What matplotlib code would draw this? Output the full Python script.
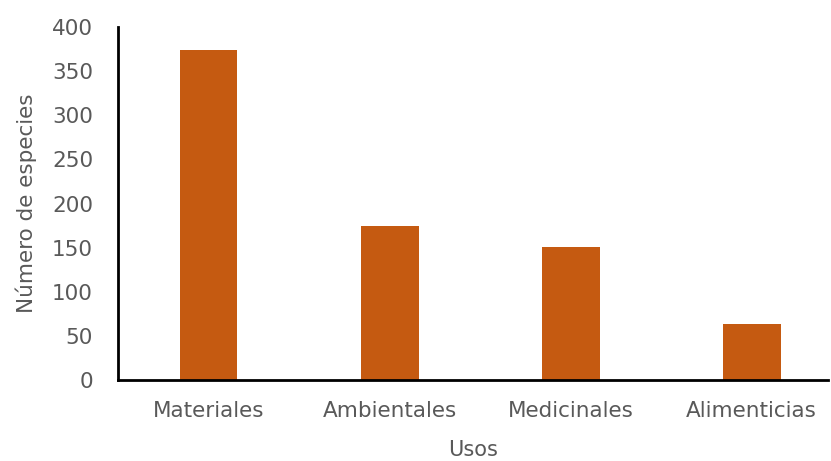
import matplotlib
matplotlib.use("Agg")
import matplotlib.pyplot as plt

usos = ["Materiales", "Ambientales", "Medicinales", "Alimenticias"]
especies = [374, 175, 151, 63]

plt.rcParams['font.family'] = ['DejaVu Sans']
gris = '#595959'

fig = plt.figure(figsize=(8.31, 4.61), dpi=100)
ax = fig.add_axes([0.142, 0.176, 0.854, 0.765])

ax.bar(range(len(usos)), especies, width=0.32, color='#C55A11')

ax.set_xlim(-0.5, 3.42)
ax.set_ylim(0, 400)
ax.set_yticks(range(0, 401, 50))
ax.set_xticks(range(len(usos)))
ax.set_xticklabels(usos)

for s in ['top', 'right']:
    ax.spines[s].set_visible(False)
for s in ['left', 'bottom']:
    ax.spines[s].set_linewidth(2)
    ax.spines[s].set_color('black')

ax.tick_params(axis='both', length=0, labelcolor=gris)
ax.tick_params(axis='y', pad=18, labelsize=15.5)
ax.tick_params(axis='x', pad=15, labelsize=15.5)

ax.set_ylabel('Número de especies', fontsize=15.5, color=gris, labelpad=11)
ax.set_xlabel('Usos', fontsize=15, color=gris, labelpad=14)

fig.savefig('out.png', dpi=100)
